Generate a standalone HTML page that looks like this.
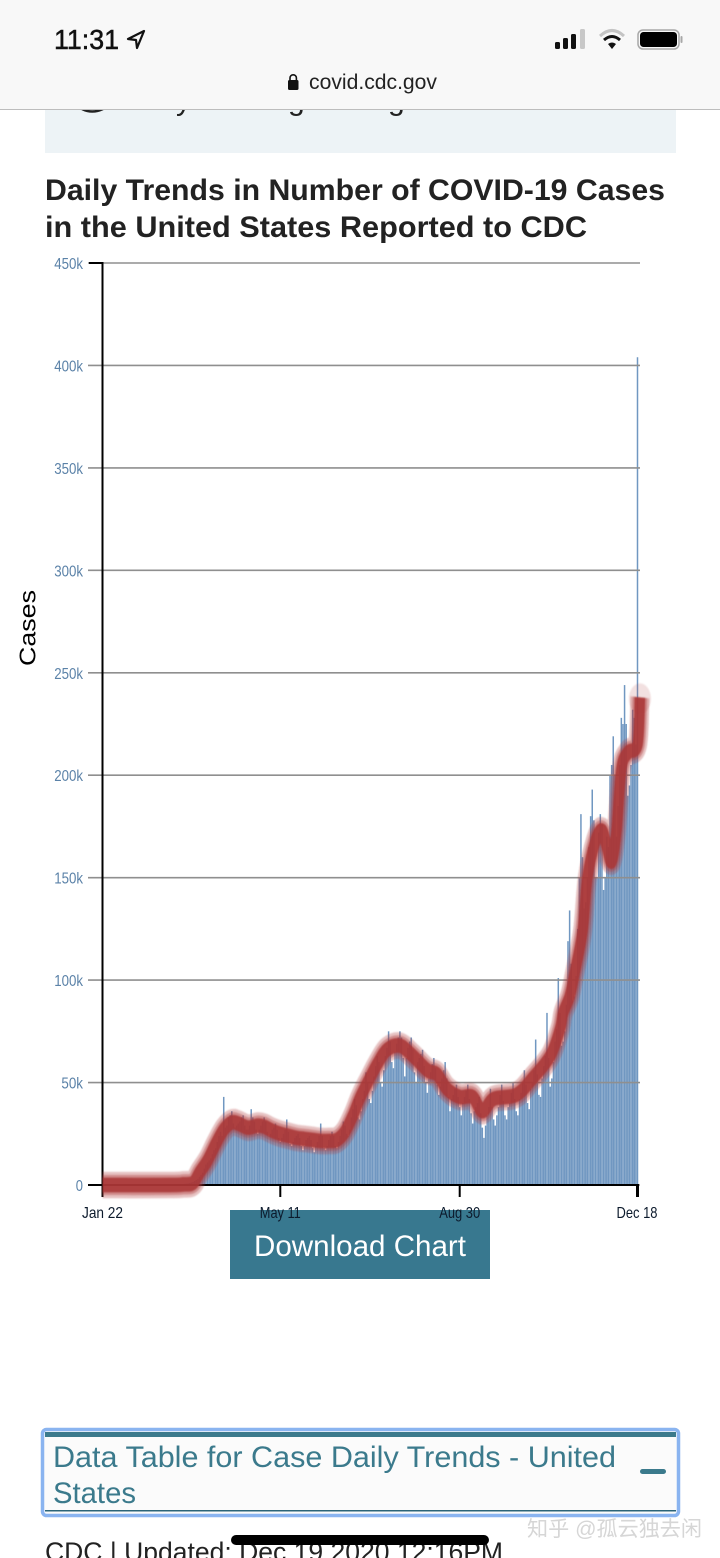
<!DOCTYPE html>
<html lang="en">
<head>
<meta charset="utf-8">
<title>Daily Trends in Number of COVID-19 Cases</title>
<style>
html,body{margin:0;padding:0;background:#fff;width:720px;height:1558px;overflow:hidden}
svg{display:block}
text{font-family:"Liberation Sans",sans-serif}
</style>
</head>
<body>
<svg id="page" xmlns="http://www.w3.org/2000/svg" width="720" height="1558" viewBox="0 0 720 1558">
  <defs>
    <filter id="soft" x="-5%" y="-5%" width="110%" height="110%"><feGaussianBlur stdDeviation="0.6"/></filter>
  </defs>
  <rect width="720" height="1558" fill="#fff"/>

  <rect x="45" y="100" width="631" height="53" fill="#edf3f6"/>
  <g fill="#222" font-size="30">
    <text x="176" y="110">y</text>
    <text x="288" y="110">g</text>
    <text x="388" y="110">g</text>
  </g>
  <path d="M82 109 Q92 114 103 109" fill="none" stroke="#222" stroke-width="2.5"/>

  <g>
    <rect width="720" height="109" fill="#f8f8f8"/>
    <rect y="109" width="720" height="1" fill="#bdbdbd"/>
    <text x="54" y="49" font-size="28" fill="#111" stroke="#111" stroke-width="0.5" textLength="65" lengthAdjust="spacingAndGlyphs">11:31</text>
    <path d="M144 31 L128 39 L136 40 L137 48 Z" fill="none" stroke="#111" stroke-width="2.2" stroke-linejoin="round"/>
    <g>
      <rect x="555" y="42" width="5" height="7" rx="1.5" fill="#111"/>
      <rect x="563" y="38" width="5" height="11" rx="1.5" fill="#111"/>
      <rect x="571" y="34" width="5" height="15" rx="1.5" fill="#111"/>
      <rect x="580" y="29" width="5" height="20" rx="1.5" fill="#c8c8c8"/>
    </g>
    <g fill="none">
      <path d="M600 36 Q612 25 624 36" stroke="#c4c4c4" stroke-width="3"/>
      <path d="M604 40 Q612 33 620 40" stroke="#111" stroke-width="3"/>
      <path d="M608 44 L612 49 L616 44 Q612 41 608 44 Z" fill="#111"/>
    </g>
    <g>
      <rect x="638" y="30" width="41" height="19" rx="5" fill="none" stroke="#a8a8a8" stroke-width="1.5"/>
      <rect x="640" y="32" width="37" height="15" rx="3.5" fill="#000"/>
      <rect x="680.5" y="36" width="2" height="7" rx="1" fill="#a8a8a8"/>
    </g>
    <g>
      <rect x="288" y="80" width="10.5" height="10" rx="1.5" fill="#111"/>
      <path d="M290 81 V78 a3.2 3.2 0 0 1 6.4 0 V81" fill="none" stroke="#111" stroke-width="1.6"/>
    </g>
    <text x="309" y="89" font-size="21" fill="#222" textLength="128" lengthAdjust="spacingAndGlyphs">covid.cdc.gov</text>
  </g>

  <g font-size="30" font-weight="700" fill="#222">
    <text x="45" y="200" textLength="620" lengthAdjust="spacingAndGlyphs">Daily Trends in Number of COVID-19 Cases</text>
    <text x="45" y="237" textLength="542" lengthAdjust="spacingAndGlyphs">in the United States Reported to CDC</text>
  </g>

  <g>
    <rect x="230" y="1210" width="260" height="69" fill="#38788f"/>
    <text x="254" y="1256" font-size="30" fill="#fff" textLength="212" lengthAdjust="spacingAndGlyphs">Download Chart</text>
  </g>

  <g id="chart"></g>
  <text transform="translate(35.5 666) rotate(-90)" font-size="23" fill="#000" textLength="76" lengthAdjust="spacingAndGlyphs">Cases</text>

  <g>
    <rect x="42.5" y="1429.5" width="636" height="86" rx="4" fill="#fbfbfb" stroke="#8ab4f0" stroke-width="3.5"/>
    <rect x="45" y="1432" width="631" height="5" fill="#3b7a8c"/>
    <rect x="45" y="1510" width="631" height="1.5" fill="#2b6478"/>
    <text x="53" y="1467" font-size="30" fill="#3b7a8c" textLength="563" lengthAdjust="spacingAndGlyphs">Data Table for Case Daily Trends - United</text>
    <text x="53" y="1503" font-size="30" fill="#3b7a8c" textLength="83" lengthAdjust="spacingAndGlyphs">States</text>
    <rect x="640" y="1469" width="26" height="5" rx="2.5" fill="#3b7a8c"/>
  </g>

  <text x="45" y="1561" font-size="27" fill="#222" textLength="458" lengthAdjust="spacingAndGlyphs">CDC | Updated: Dec 19 2020 12:16PM</text>
  <rect x="231" y="1535" width="258" height="10" rx="5" fill="#000"/>
  <text x="527" y="1536" font-size="21" fill="#d6d6d6" style="font-family:'Liberation Sans','Noto Sans CJK SC',sans-serif" textLength="175" lengthAdjust="spacingAndGlyphs">知乎 @孤云独去闲</text>
</svg>

<script>
// Daily reported cases in thousands; index 0 is Jan 22.
const dailyCases = [
0,0,0,0,0,0,0,
0,0,0,0,0,0,0,
0,0,0,0,0,0,0,
0,0,0,0,0,0,0,
0,0,0,0,0,0,0,
0,0,0,0,0,0,0,
0.1,0.1,0.1,0.1,0.2,0.2,0.3,
0.4,0.5,0.6,0.7,0.8,1,1.2,
1.5,2,2.5,3,4,5,6,
8,10,11,12,13,15,17,
18,21,24,26,24,43,28,
29,33,34,36,30,28,29,
30,31,33,34,29,27,27,
29,37,33,31,27,25,27,
29,31,33,31,26,24,25,
27,28,30,27,23,21,23,
25,27,32,26,20,19,21,
23,24,25,23,19,17,19,
22,23,24,22,18,16,19,
21,24,30,24,18,17,19,
22,24,26,24,19,18,21,
24,27,31,29,25,24,27,
33,37,42,39,33,32,36,
42,46,55,50,42,40,46,
53,58,63,60,50,48,56,
63,67,75,70,60,57,65,
69,72,75,72,62,53,62,
67,70,72,66,55,50,60,
62,64,66,58,50,45,52,
55,59,62,57,49,44,48,
52,56,60,52,43,36,42,
44,47,49,43,38,34,40,
43,46,49,42,35,30,36,
38,40,43,35,28,23,29,
34,38,47,38,32,29,34,
38,44,49,41,34,32,38,
40,45,50,42,36,34,42,
45,50,56,49,40,37,47,
50,56,71,54,44,43,52,
58,63,84,62,48,52,60,
70,76,101,84,68,70,75,
88,119,134,108,90,92,102,
125,150,181,160,135,138,150,
165,180,193,178,150,150,172,
181,176,144,150,170,165,200,
205,219,200,170,185,205,228,
225,244,225,190,195,205,232,
228,215,404
];

// Seven-day average: day index and value in thousands.
const averageDays = [0,42,50,56,60,65,70,75,80,84,90,96,100,105,110,115,120,125,130,135,140,145,150,155,159,164,170,176,184,192,201,207,213,221,229,235,242,256,266,277,283,285,289,292,297,300,305,309,312,315,318,321,325,331,332.5];
const averageValues = [0,0,0.3,1,6,12,20,27,30.5,30,28,29,28.5,26.5,25,24,23,22.5,22,21.5,21.5,22,26,34,42,50,59,66,68,63,56,54,47,43,43,36,42,44,52,63,76,84,92,103,124,150,168,173,165,158,173,203,211,215,238];

const yTickValues = [0,50,100,150,200,250,300,350,400,450];
const yTickLabels = ['0','50k','100k','150k','200k','250k','300k','350k','400k','450k'];
const xTickDays = [0,110,221,331];
const xTickLabels = ['Jan 22','May 11','Aug 30','Dec 18'];

const NS = 'http://www.w3.org/2000/svg';
const chart = document.getElementById('chart');
const xScale = function (day) { return 102.5 + day * (535 / 331); };
const yScale = function (k) { return 1185 - k * (922 / 450); };

function make(tag, attrs, parent) {
  const el = document.createElementNS(NS, tag);
  for (const key in attrs) el.setAttribute(key, attrs[key]);
  parent.appendChild(el);
  return el;
}

// bars
const barGroup = make('g', { fill: '#7097c1' }, chart);


dailyCases.forEach(function (value, day) {
  const top = yScale(value);
  const bar = make('rect', { x: xScale(day) - 0.75, y: top, width: 1.5, height: 1185 - top }, barGroup);
  
  
});

// grid lines and y tick labels
yTickValues.forEach(function (value, i) {
  const y = yScale(value);
  const grid = make('line', { x1: 88, x2: 640, y1: y, y2: y, stroke: '#8f8f8f', 'stroke-width': 1.6 }, chart);
  
  
  const label = make('text', { x: 83, y: y + 6, 'font-size': 16, fill: '#5b82a8', 'text-anchor': 'end' }, chart);
  
  
  label.textContent = yTickLabels[i];
  label.setAttribute('textLength', yTickLabels[i].length * 7.2);
  label.setAttribute('lengthAdjust', 'spacingAndGlyphs');
});

// axes
const topTick = make('line', { x1: 89, x2: 103, y1: yScale(450), y2: yScale(450), stroke: '#000', 'stroke-width': 2 }, chart);


const yAxis = make('line', { x1: xScale(0), x2: xScale(0), y1: yScale(450) - 1, y2: 1197, stroke: '#000', 'stroke-width': 2 }, chart);


const xAxis = make('line', { x1: 88, x2: 639, y1: 1185, y2: 1185, stroke: '#000', 'stroke-width': 2 }, chart);



// x ticks
xTickDays.forEach(function (day, i) {
  const x = xScale(day);
  const tick = make('line', { x1: x, x2: x, y1: 1185, y2: 1197, stroke: '#000', 'stroke-width': i === 3 ? 3 : 2 }, chart);
  
  
  const label = make('text', { x: x + (i === 3 ? -0.5 : 0), y: 1218, 'font-size': 16, fill: '#0c1a2c', 'text-anchor': 'middle', textLength: 41, lengthAdjust: 'spacingAndGlyphs' }, chart);
  
  
  label.textContent = xTickLabels[i];
});

// Seven-day average line. The source screenshot is vertically stretched, so the
// strokes are drawn in a squashed space and scaled back up to thicken them vertically.
const stretch = 1.4;
const pts = averageDays.map(function (day, i) { return [xScale(day), yScale(averageValues[i]) / stretch]; });
let d = 'M' + pts[0][0] + ' ' + pts[0][1];
for (let i = 0; i < pts.length - 1; i++) {
  const p0 = pts[Math.max(i - 1, 0)], p1 = pts[i], p2 = pts[i + 1], p3 = pts[Math.min(i + 2, pts.length - 1)];
  const c1x = p1[0] + (p2[0] - p0[0]) / 6, c1y = p1[1] + (p2[1] - p0[1]) / 6;
  const c2x = p2[0] - (p3[0] - p1[0]) / 6, c2y = p2[1] - (p3[1] - p1[1]) / 6;
  d += ' C' + c1x + ' ' + c1y + ' ' + c2x + ' ' + c2y + ' ' + p2[0] + ' ' + p2[1];
}
const lineGroup = make('g', { transform: 'scale(1 ' + stretch + ')', filter: 'url(#soft)', fill: 'none', stroke: '#b03a3a', 'stroke-linejoin': 'round' }, chart);


const last = pts[pts.length - 1];
const endCap = make('circle', { cx: last[0], cy: last[1] + 1, r: 11, fill: '#b03a3a', 'fill-opacity': 0.16, stroke: 'none' }, lineGroup);


const halo = make('path', { d: d, 'stroke-opacity': 0.3, 'stroke-width': 19 }, lineGroup);


const mid = make('path', { d: d, 'stroke-opacity': 0.4, 'stroke-width': 14.5 }, lineGroup);


const core = make('path', { d: d, stroke: '#aa3636', 'stroke-opacity': 0.88, 'stroke-width': 10.5 }, lineGroup);


</script>
</body>
</html>
